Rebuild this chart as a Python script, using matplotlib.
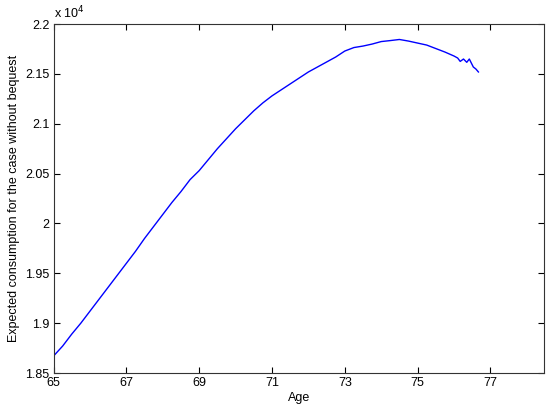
import matplotlib
matplotlib.use("Agg")
import matplotlib.pyplot as plt

# expected consumption (in units of 1e4)
age = [65.00, 65.25, 65.50, 65.75, 66.00, 66.25, 66.50, 66.75, 67.00, 67.25,
       67.50, 67.75, 68.00, 68.25, 68.50, 68.75, 69.00, 69.25, 69.50, 69.75,
       70.00, 70.25, 70.50, 70.75, 71.00, 71.25, 71.50, 71.75, 72.00, 72.25,
       72.50, 72.75, 73.00, 73.25, 73.50, 73.75, 74.00, 74.25, 74.50, 74.75,
       75.00, 75.25, 75.50, 75.75, 76.00, 76.10, 76.17, 76.26, 76.35, 76.42,
       76.53, 76.60, 76.67]
consumption = [1.867, 1.877, 1.889, 1.900, 1.912, 1.924, 1.936, 1.948, 1.960, 1.972,
               1.985, 1.997, 2.009, 2.021, 2.032, 2.044, 2.053, 2.064, 2.075, 2.085,
               2.095, 2.104, 2.113, 2.121, 2.128, 2.134, 2.140, 2.146, 2.152, 2.157,
               2.162, 2.167, 2.173, 2.1765, 2.178, 2.180, 2.1825, 2.1835, 2.1846, 2.183,
               2.181, 2.179, 2.1755, 2.172, 2.168, 2.166, 2.1626, 2.165, 2.1617, 2.165,
               2.157, 2.155, 2.152]

x_ticks = [65, 67, 69, 71, 73, 75, 77]
y_ticks = [1.85, 1.9, 1.95, 2.0, 2.05, 2.1, 2.15, 2.2]
y_tick_labels = ["1.85", "1.9", "1.95", "2", "2.05", "2.1", "2.15", "2.2"]

plt.rcParams["font.family"] = ["Liberation Sans", "DejaVu Sans"]

fig = plt.figure(figsize=(5.5, 4.09), dpi=100)
ax = fig.add_axes([0.0973, 0.088, 0.8917, 0.853])

ax.plot(age, consumption, color="#0000ff", linewidth=1.0)

ax.set_xlim(65, 78.47)
ax.set_ylim(1.85, 2.2)
ax.set_xticks(x_ticks)
ax.set_yticks(y_ticks)
ax.set_yticklabels(y_tick_labels)
ax.tick_params(direction="in", length=4, width=0.8, top=True, right=True,
               labelsize=9, colors="black", pad=3)
for sp in ax.spines.values():
    sp.set_linewidth(0.8)
    sp.set_color("#333333")

ax.set_xlabel("Age", fontsize=9, labelpad=2)
ax.set_ylabel("Expected consumption for the case without bequest", fontsize=9, labelpad=4)
ax.text(0.0, 1.008, r"x 10$^{4}$", transform=ax.transAxes, fontsize=9,
        ha="left", va="bottom")

fig.savefig("out.png", dpi=100)
